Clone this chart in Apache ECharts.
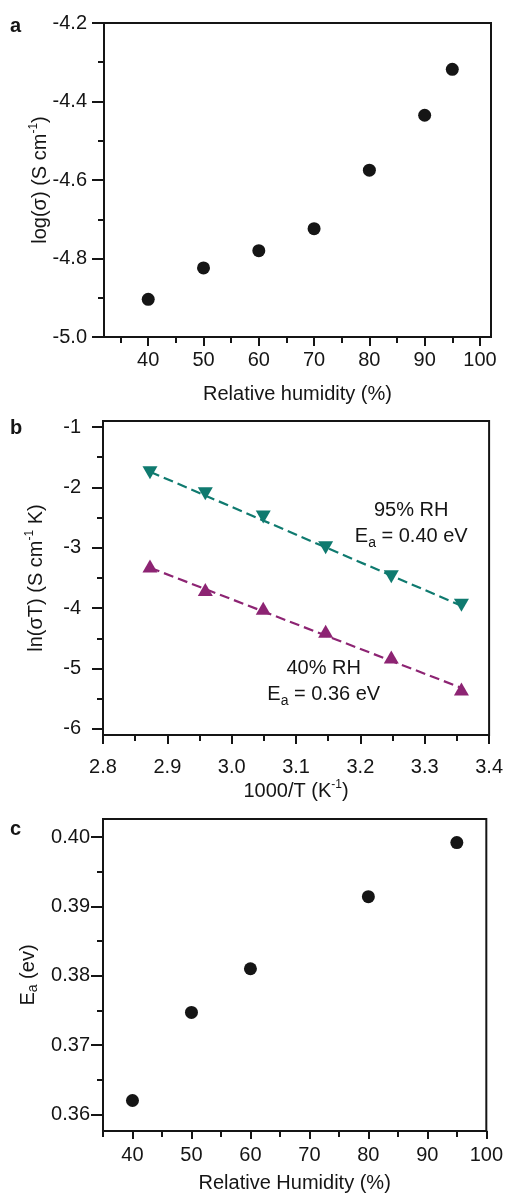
<!DOCTYPE html>
<html>
<head>
<meta charset="utf-8">
<script src="https://cdn.jsdelivr.net/npm/echarts@6/dist/echarts.min.js"></script>
<style>
  html, body { margin: 0; padding: 0; background: #fff; }
  #chart { width: 506px; height: 1196px; }
</style>
</head>
<body>
<div id="chart"></div>
<script>
// panel a : log conductivity vs relative humidity
const humidityA = [40, 50, 60, 70, 80, 90, 95];
const logSigma = [-4.904, -4.824, -4.780, -4.724, -4.575, -4.435, -4.318];

// panel b : Arrhenius plot
const invTemp = [2.873, 2.959, 3.049, 3.146, 3.248, 3.357];
const lnSigmaT95 = [-1.756, -2.105, -2.49, -3.0, -3.48, -3.95];
const lnSigmaT40 = [-3.30, -3.69, -4.0, -4.38, -4.81, -5.34];
const fit95 = [[2.873, -1.74], [3.357, -3.96]];
const fit40 = [[2.873, -3.33], [3.357, -5.32]];
const note95 = [3.279, -2.6];
const note40 = [3.143, -5.22];

// panel c : activation energy vs relative humidity
const humidityC = [40, 50, 60, 80, 95];
const activationEnergy = [0.3620, 0.3747, 0.3810, 0.3914, 0.3992];

// ticks
const ticksAx = [40, 50, 60, 70, 80, 90, 100];
const minorAx = [35, 45, 55, 65, 75, 85, 95];
const ticksAy = [-5.0, -4.8, -4.6, -4.4, -4.2];
const minorAy = [-4.9, -4.7, -4.5, -4.3];
const ticksBx = [2.8, 2.9, 3.0, 3.1, 3.2, 3.3, 3.4];
const minorBx = [2.85, 2.95, 3.05, 3.15, 3.25, 3.35];
const ticksBy = [-6, -5, -4, -3, -2, -1];
const minorBy = [-5.5, -4.5, -3.5, -2.5, -1.5];
const ticksCx = [40, 50, 60, 70, 80, 90, 100];
const minorCx = [35, 45, 55, 65, 75, 85, 95];
const ticksCy = [0.36, 0.37, 0.38, 0.39, 0.40];
const minorCy = [0.365, 0.375, 0.385, 0.395];

const INK = "#151515";
const TEAL = "#0f7a6f";
const PURPLE = "#8d2473";
const FONT = '"Liberation Sans", Arial, sans-serif';
const FS = 20;

const rich = {
  sup: { fontSize: 12, verticalAlign: "top", lineHeight: 12, fontFamily: FONT, color: INK },
  sub: { fontSize: 14, verticalAlign: "bottom", lineHeight: 14, fontFamily: FONT, color: INK },
};

function axisPair(o) {
  const main = {
    type: "value",
    gridIndex: o.grid,
    position: o.pos,
    min: o.min,
    max: o.max,
    splitLine: { show: false },
    axisLine: { show: true, onZero: false, lineStyle: { color: INK, width: 2 } },
    axisTick: {
      show: true,
      customValues: o.ticks,
      length: o.tickLen || 10,
      lineStyle: { color: INK, width: 2 },
    },
    axisLabel: {
      customValues: o.ticks,
      formatter: (v) => (o.digits != null ? v.toFixed(o.digits) : String(v)),
      margin: o.margin,
      fontSize: FS,
      fontFamily: FONT,
      color: INK,
    },
    name: o.name,
    nameLocation: "middle",
    nameGap: o.nameGap,
    nameMoveOverlap: false,
    nameTextStyle: {
      fontSize: FS,
      fontFamily: FONT,
      color: INK,
      lineHeight: 24,
      rich: rich,
    },
  };
  const minor = {
    type: "value",
    gridIndex: o.grid,
    position: o.pos,
    offset: 0,
    min: o.min,
    max: o.max,
    splitLine: { show: false },
    axisLine: { show: false, onZero: false },
    axisTick: {
      show: true,
      customValues: o.minor,
      length: 6,
      lineStyle: { color: INK, width: 2 },
    },
    axisLabel: { show: false },
  };
  return [main, minor];
}

const gridBase = {
  show: true,
  borderColor: INK,
  borderWidth: 2,
  backgroundColor: "transparent",
  containLabel: false,
};

const xAxes = [
  ...axisPair({ grid: 0, pos: "bottom", min: 32, max: 102, ticks: ticksAx, minor: minorAx, margin: 13,
    name: "Relative humidity (%)", nameGap: 45, tickLen: 9 }),
  ...axisPair({ grid: 1, pos: "bottom", min: 2.8, max: 3.4, ticks: ticksBx, minor: minorBx, margin: 22, digits: 1,
    name: "1000/T (K{sup|-1})", nameGap: 44, tickLen: 9 }),
  ...axisPair({ grid: 2, pos: "bottom", min: 35, max: 100, ticks: ticksCx, minor: minorCx, margin: 14,
    name: "Relative Humidity (%)", nameGap: 40, tickLen: 8 }),
];

const yAxes = [
  ...axisPair({ grid: 0, pos: "left", min: -5.0, max: -4.2, ticks: ticksAy, minor: minorAy, margin: 17, digits: 1,
    name: "log(σ) (S cm{sup|-1})", nameGap: 52, tickLen: 12 }),
  ...axisPair({ grid: 1, pos: "left", min: -6.1, max: -0.9, ticks: ticksBy, minor: minorBy, margin: 22,
    name: "ln(σT) (S cm{sup|-1} K)", nameGap: 55, tickLen: 11 }),
  ...axisPair({ grid: 2, pos: "left", min: 0.3576, max: 0.4026, ticks: ticksCy, minor: minorCy, margin: 13, digits: 2,
    name: "E{sub|a} (ev)", nameGap: 63, tickLen: 12 }),
];

function zip(xs, ys) {
  return xs.map((x, i) => [x, ys[i]]);
}

const noteLabel = {
  show: true,
  position: "inside",
  fontSize: FS,
  fontFamily: FONT,
  color: INK,
  lineHeight: 26,
  align: "center",
  rich: rich,
};

const dot = { color: INK, opacity: 1 };

const option = {
  backgroundColor: "#fff",
  animation: false,
  grid: [
    { ...gridBase, left: 104, right: 15, top: 23, height: 314 },
    { ...gridBase, left: 103, right: 15, top: 421, height: 314 },
    { ...gridBase, left: 103, right: 16, top: 819, height: 314 },
  ],
  xAxis: xAxes,
  yAxis: yAxes,
  graphic: [
    { type: "text", left: 10, top: 16, style: { text: "a", fontSize: 20, fontWeight: "bold", fontFamily: FONT, fill: INK } },
    { type: "text", left: 10, top: 418, style: { text: "b", fontSize: 20, fontWeight: "bold", fontFamily: FONT, fill: INK } },
    { type: "text", left: 10, top: 819, style: { text: "c", fontSize: 20, fontWeight: "bold", fontFamily: FONT, fill: INK } },
  ],
  series: [
    {
      type: "scatter",
      xAxisIndex: 0,
      yAxisIndex: 0,
      symbol: "circle",
      symbolSize: 13,
      itemStyle: dot,
      data: zip(humidityA, logSigma),
    },
    {
      type: "line",
      xAxisIndex: 2,
      yAxisIndex: 2,
      symbol: "none",
      lineStyle: { color: TEAL, width: 2.2, type: [10, 5] },
      data: fit95,
      z: 2,
      markPoint: {
        symbol: "circle",
        symbolSize: 0,
        label: { ...noteLabel, formatter: "95% RH\nE{sub|a} = 0.40 eV" },
        data: [{ coord: note95 }],
      },
    },
    {
      type: "line",
      xAxisIndex: 2,
      yAxisIndex: 2,
      symbol: "none",
      lineStyle: { color: PURPLE, width: 2.2, type: [10, 5] },
      data: fit40,
      z: 2,
      markPoint: {
        symbol: "circle",
        symbolSize: 0,
        label: { ...noteLabel, formatter: "40% RH\nE{sub|a} = 0.36 eV" },
        data: [{ coord: note40 }],
      },
    },
    {
      type: "scatter",
      xAxisIndex: 2,
      yAxisIndex: 2,
      symbol: "triangle",
      symbolRotate: 180,
      symbolSize: [15, 13],
      itemStyle: { color: TEAL, opacity: 1 },
      z: 3,
      data: zip(invTemp, lnSigmaT95),
    },
    {
      type: "scatter",
      xAxisIndex: 2,
      yAxisIndex: 2,
      symbol: "triangle",
      symbolSize: [15, 13],
      itemStyle: { color: PURPLE, opacity: 1 },
      z: 3,
      data: zip(invTemp, lnSigmaT40),
    },
    {
      type: "scatter",
      xAxisIndex: 4,
      yAxisIndex: 4,
      symbol: "circle",
      symbolSize: 13,
      itemStyle: dot,
      data: zip(humidityC, activationEnergy),
    },
  ],
};

const chart = echarts.init(document.getElementById("chart"), null, { renderer: "canvas" });
chart.setOption(option);
</script>
</body>
</html>
